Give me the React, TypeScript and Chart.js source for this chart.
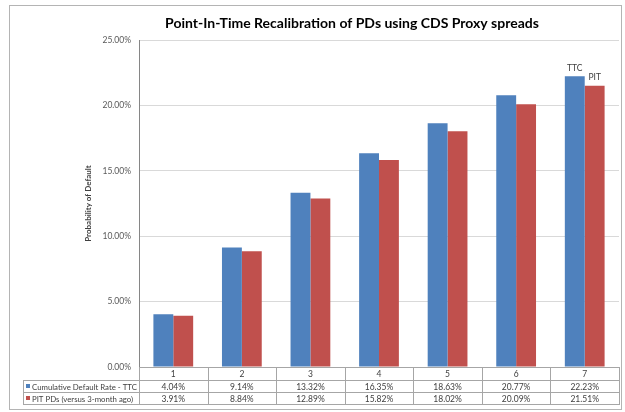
import { useEffect, useRef } from "react";
import { Chart, registerables } from "chart.js";

Chart.register(...registerables);

const categories = ["1", "2", "3", "4", "5", "6", "7"];
const ttcValues = [4.04, 9.14, 13.32, 16.35, 18.63, 20.77, 22.23];
const pitValues = [3.91, 8.84, 12.89, 15.82, 18.02, 20.09, 21.51];
const seriesNames = ["Cumulative Default Rate - TTC", "PIT PDs (versus 3-month ago)"];
const seriesColors = ["#4F81BD", "#C0504D"];
const endLabels = ["TTC", "PIT"];
const titleText = "Point-In-Time Recalibration of PDs using CDS Proxy spreads";
const yAxisTitle = "Probability of Default";

const FONT = "Lato, 'Noto Sans', sans-serif";

const tablePlugin = {
  id: "excelTable",
  afterDraw(chart: any) {
    const ctx = chart.ctx as CanvasRenderingContext2D;
    const area = chart.chartArea;
    const xs = chart.scales.x;
    const n = categories.length;
    const cw = (area.right - area.left) / n;
    const p = (v: number) => Math.round(v) + 0.5;
    const top = area.bottom;
    const hdrBottom = top + 13;
    const r1 = hdrBottom + 12;
    const r2 = r1 + 12;
    const tableLeft = 23;

    ctx.save();
    // outer border
    ctx.strokeStyle = "#b4b4b4";
    ctx.lineWidth = 1;
    ctx.strokeRect(p(9), p(5), 612, 404);

    // title
    ctx.fillStyle = "#000000";
    ctx.font = `bold 14px ${FONT}`;
    ctx.textAlign = "center";
    ctx.textBaseline = "middle";
    ctx.fillText(titleText, 352, 23);

    // table grid
    ctx.strokeStyle = "#a6a6a6";
    ctx.beginPath();
    const hl = (x1: number, x2: number, y: number) => {
      ctx.moveTo(Math.round(x1), p(y));
      ctx.lineTo(Math.round(x2) + 1, p(y));
    };
    const vl = (x: number, y1: number, y2: number) => {
      ctx.moveTo(p(x), Math.round(y1));
      ctx.lineTo(p(x), Math.round(y2) + 1);
    };
    hl(area.left, area.right, top);
    hl(tableLeft, area.right, hdrBottom);
    hl(tableLeft, area.right, r1);
    hl(tableLeft, area.right, r2);
    for (let i = 0; i <= n; i++) {
      vl(area.left + i * cw, top, r2);
    }
    vl(tableLeft, hdrBottom, r2);
    ctx.stroke();

    // category header row
    ctx.font = `8.5px ${FONT}`;
    ctx.fillStyle = "#404040";
    ctx.textAlign = "center";
    ctx.textBaseline = "middle";
    categories.forEach((c, i) => {
      ctx.fillText(c, xs.getPixelForValue(i), (top + hdrBottom) / 2 + 1);
    });

    // data rows
    const rows = [ttcValues, pitValues];
    const rowMid = [(hdrBottom + r1) / 2 + 1, (r1 + r2) / 2 + 1];
    rows.forEach((vals, r) => {
      ctx.fillStyle = seriesColors[r];
      ctx.fillRect(tableLeft + 3, Math.round(rowMid[r]) - 3, 4, 4);
      ctx.fillStyle = "#404040";
      ctx.font = `7.8px ${FONT}`;
      ctx.textAlign = "left";
      ctx.fillText(seriesNames[r], tableLeft + 9, rowMid[r]);
      ctx.font = `8.5px ${FONT}`;
      ctx.textAlign = "center";
      vals.forEach((v, i) => {
        ctx.fillText(v.toFixed(2) + "%", xs.getPixelForValue(i), rowMid[r]);
      });
    });

    // end labels above last bars
    ctx.font = `8.5px ${FONT}`;
    ctx.fillStyle = "#404040";
    ctx.textAlign = "center";
    ctx.textBaseline = "bottom";
    chart.data.datasets.forEach((_: any, d: number) => {
      const meta = chart.getDatasetMeta(d);
      const el = meta.data[n - 1];
      if (el) ctx.fillText(endLabels[d], el.x, el.y - 4);
    });
    ctx.restore();
  },
};

export default function App() {
  const ref = useRef<HTMLCanvasElement | null>(null);
  useEffect(() => {
    if (!ref.current) return;
    const chart = new Chart(ref.current, {
      type: "bar",
      data: {
        labels: categories,
        datasets: [
          { label: seriesNames[0], data: ttcValues, backgroundColor: seriesColors[0], borderWidth: 0 },
          { label: seriesNames[1], data: pitValues, backgroundColor: seriesColors[1], borderWidth: 0 },
        ],
      },
      options: {
        responsive: false,
        animation: false,
        devicePixelRatio: 1,
        layout: { padding: { left: 75, right: 6, top: 40, bottom: 32 } },
        plugins: {
          legend: { display: false },
          tooltip: { enabled: false },
          title: { display: false },
        },
        datasets: { bar: { categoryPercentage: 0.58, barPercentage: 1 } },
        scales: {
          x: {
            grid: { display: false },
            border: { display: false },
            ticks: { display: false },
            afterFit: (s: any) => {
              s.height = 13;
            },
          },
          y: {
            min: 0,
            max: 25,
            ticks: {
              stepSize: 5,
              color: "#595959",
              font: { family: FONT, size: 8.5 },
              padding: 8,
              callback: (v: any) => Number(v).toFixed(2) + "%",
            },
            grid: { color: "#d9d9d9", drawTicks: false },
            border: { color: "#868686" },
            title: {
              display: true,
              text: yAxisTitle,
              color: "#404040",
              font: { family: FONT, size: 8, weight: "bold" },
              padding: { top: 9, bottom: 0 },
            },
            afterFit: (s: any) => {
              s.width = 64;
            },
          },
        },
      },
      plugins: [tablePlugin],
    });
    return () => chart.destroy();
  }, []);
  return (
    <div style={{ position: "fixed", left: 0, top: 0, width: 625, height: 412, background: "#fff" }}>
      <canvas ref={ref} width={625} height={412} />
    </div>
  );
}
